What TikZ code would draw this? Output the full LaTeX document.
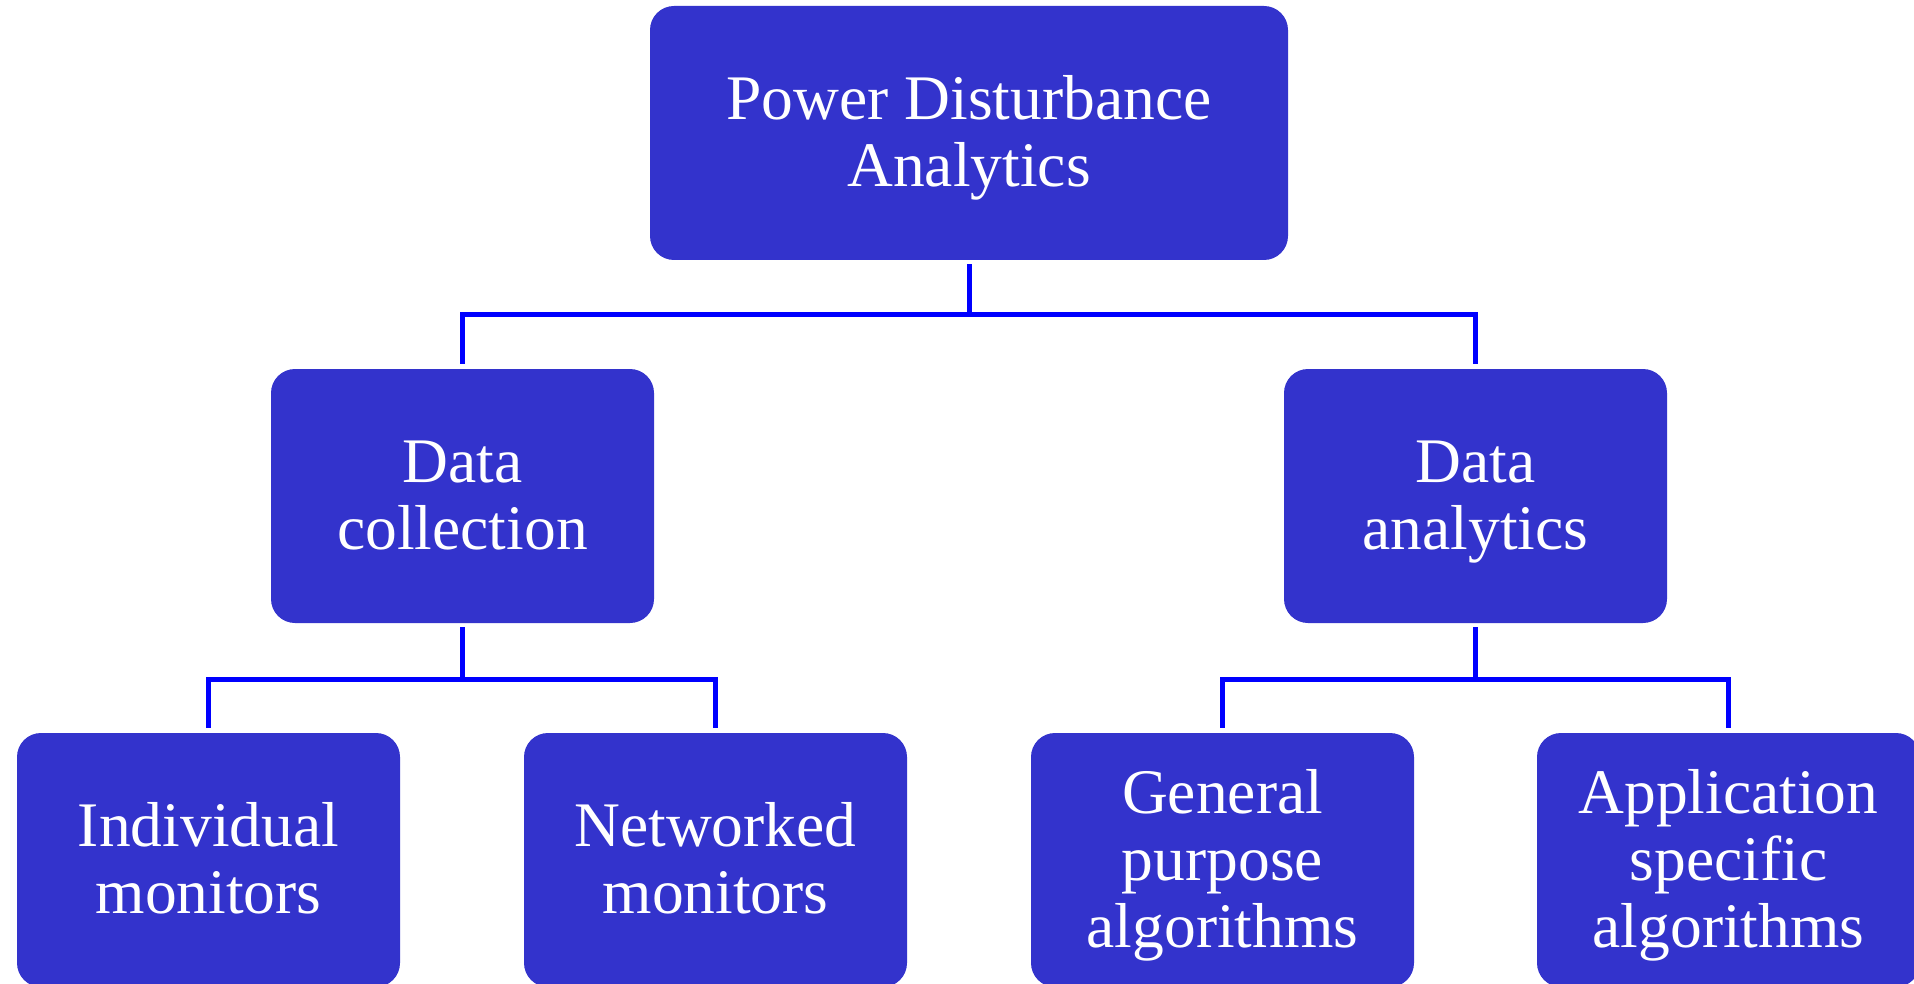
\documentclass[tikz,border=0pt]{standalone}
\usepackage{fontspec}
\setmainfont{Liberation Serif}
\usetikzlibrary{calc}
\definecolor{boxfill}{RGB}{51,51,204}
\definecolor{linkblue}{RGB}{0,0,255}
% invisible struts that fix the height of the first line and the depth of the last
\newcommand\firststrut{\rule{0pt}{56pt}}
\newcommand\laststrut{\rule[-16pt]{0pt}{16pt}}
\begin{document}
\begin{tikzpicture}[x=1pt,y=1pt,
  box/.style={fill=boxfill, rounded corners=24pt, minimum width=383pt,
    minimum height=254pt, inner sep=0pt, text=white, align=center,
    font=\fontsize{63.5}{67}\selectfont},
  conn/.style={draw=linkblue, line width=5pt}]
\useasboundingbox (0,0) rectangle (1914,-984);
\clip (0,0) rectangle (1914,-984);
% tree nodes
\node[box, minimum width=638pt] (top) at (969,-133) {\firststrut Power Disturbance\\Analytics\laststrut};
\node[box] (dc) at (462.5,-496) {\firststrut Data\\collection\laststrut};
\node[box] (da) at (1475.5,-496) {\firststrut Data\\analytics\laststrut};
\node[box] (im) at (208.5,-860) {\firststrut Individual\\monitors\laststrut};
\node[box] (nm) at (715.5,-860) {\firststrut Networked\\monitors\laststrut};
\node[box] (gp) at (1222.5,-860) {\firststrut General\\purpose\\algorithms\laststrut};
\node[box] (as) at (1728.5,-860) {\firststrut Application\\specific\\algorithms\laststrut};
% connectors
\draw[conn] ([yshift=-4pt]top.south) -- ++(0,-50) coordinate (j1);
\draw[conn] ([yshift=5pt]dc.north) |- (j1) -| ([yshift=5pt]da.north);
\draw[conn] ([yshift=-4pt]dc.south) -- ++(0,-52) coordinate (j2);
\draw[conn] ([yshift=5pt]im.north) |- (j2) -| ([yshift=5pt]nm.north);
\draw[conn] ([yshift=-4pt]da.south) -- ++(0,-52) coordinate (j3);
\draw[conn] ([yshift=5pt]gp.north) |- (j3) -| ([yshift=5pt]as.north);
\end{tikzpicture}
\end{document}
